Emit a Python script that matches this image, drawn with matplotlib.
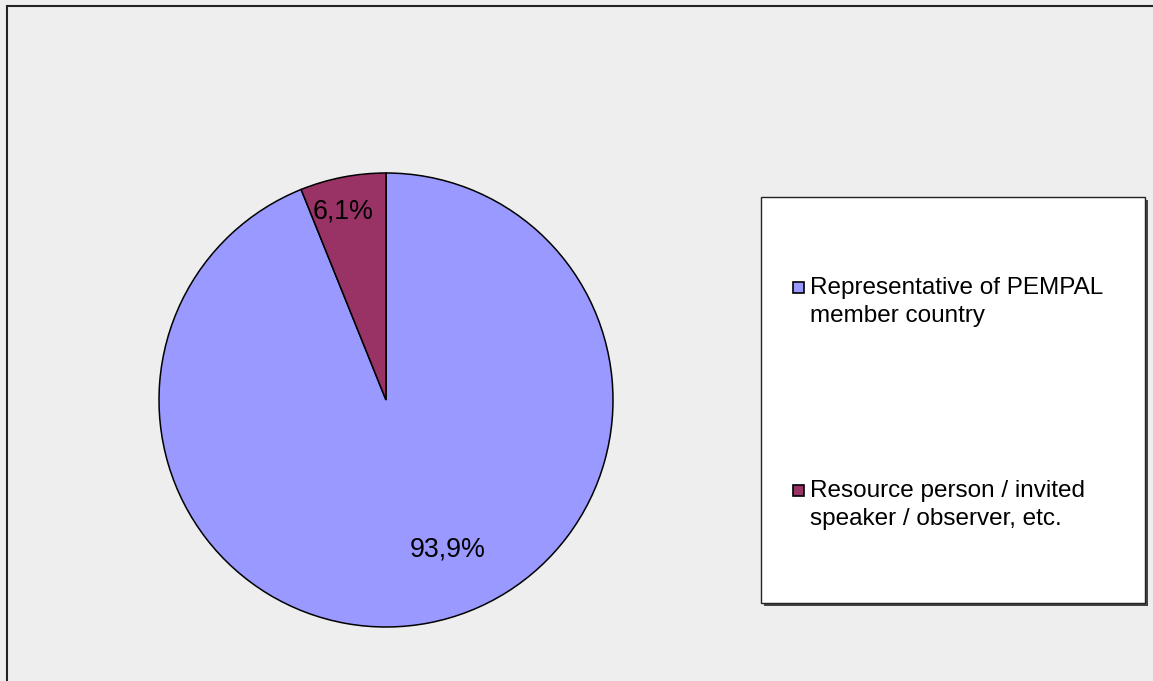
import matplotlib
matplotlib.use("Agg")
import matplotlib.pyplot as plt
from matplotlib.patches import Rectangle
import numpy as np

plt.rcParams['font.family'] = ['Liberation Sans', 'DejaVu Sans']

categories = ["Representative of PEMPAL\nmember country",
              "Resource person / invited\nspeaker / observer, etc."]
values = [93.9, 6.1]
value_labels = ["93,9%", "6,1%"]
colors = ["#9999FF", "#993366"]

W, H = 1153, 681
fig = plt.figure(figsize=(W / 100, H / 100), dpi=100)
fig.patch.set_facecolor("#EEEEEE")

def fx(px):
    return px / W

def fy(py):
    return 1 - py / H

# outer frame (extends beyond image at right and bottom)
fig.patches.append(Rectangle((fx(6.5), fy(H + 20)), fx(W + 20), (H + 14.5) / H,
                             transform=fig.transFigure, fill=False,
                             edgecolor="#222222", linewidth=1.5))

cx, cy, r = 386, 400, 227
ax = fig.add_axes([fx(cx - r), fy(cy + r), 2 * r / W, 2 * r / H])
ax.set_facecolor("none")
wedges, _ = ax.pie(values, colors=colors, startangle=90, counterclock=False,
                   radius=1.0,
                   wedgeprops=dict(edgecolor="black", linewidth=1.1))
ax.set_xlim(-1, 1)
ax.set_ylim(-1, 1)
ax.set_aspect("equal")
ax.axis("off")

# label placement (polar: angle in degrees, distance relative to radius)
label_angle = [-67.5, 103.0]
label_dist = [0.714, 0.85]
for lab, a, d in zip(value_labels, label_angle, label_dist):
    ang = np.deg2rad(a)
    ax.text(d * np.cos(ang), d * np.sin(ang), lab, ha="center", va="center",
            fontsize=19.3, color="black")

# legend box
lx0, ly0, lx1, ly1 = 761, 197, 1145, 603
fig.patches.append(Rectangle((fx(lx0 + 2.5), fy(ly1 + 2.5)), fx(lx1 - lx0), (ly1 - ly0) / H,
                             transform=fig.transFigure, facecolor="#444444",
                             edgecolor="none"))
fig.patches.append(Rectangle((fx(lx0), fy(ly1)), fx(lx1 - lx0), (ly1 - ly0) / H,
                             transform=fig.transFigure, facecolor="white",
                             edgecolor="#222222", linewidth=1.0))

entry_y = [302, 505]
for cat, col, ey in zip(categories, colors, entry_y):
    first_line_y = ey - 15
    fig.patches.append(Rectangle((fx(793), fy(first_line_y + 6)), fx(11), 11 / H,
                                 transform=fig.transFigure, facecolor=col,
                                 edgecolor="black", linewidth=1.2))
    fig.text(fx(810), fy(ey), cat, ha="left", va="center", fontsize=17.5,
             linespacing=1.33, color="black")

fig.savefig("out.png", dpi=100, facecolor=fig.get_facecolor())
